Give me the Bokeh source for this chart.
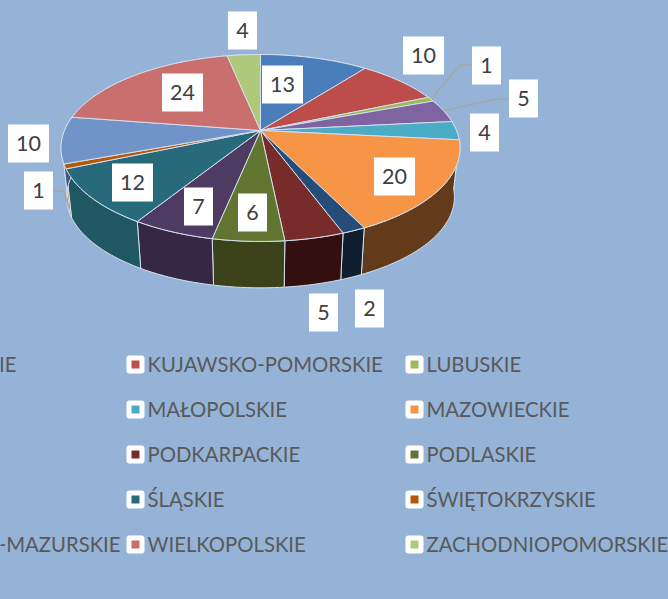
import math
from bokeh.plotting import figure
from bokeh.embed import file_html
from bokeh.resources import INLINE
from bokeh.core.properties import value

regions = ["DOLNOŚLĄSKIE", "KUJAWSKO-POMORSKIE", "LUBUSKIE", "ŁÓDZKIE", "MAŁOPOLSKIE",
           "MAZOWIECKIE", "OPOLSKIE", "PODKARPACKIE", "PODLASKIE", "POMORSKIE", "ŚLĄSKIE",
           "ŚWIĘTOKRZYSKIE", "WARMIŃSKO-MAZURSKIE", "WIELKOPOLSKIE", "ZACHODNIOPOMORSKIE"]
counts = [13, 10, 1, 5, 4, 20, 2, 5, 6, 7, 12, 1, 10, 24, 4]
top_colors = ["#4a7ebb", "#bc4d4b", "#9bbb59", "#8064a2", "#4bacc6", "#f59545", "#264d7a",
              "#772c2a", "#5f7530", "#4d3b62", "#276a7c", "#b65708", "#7093c8", "#c9706e", "#afc97a"]
side_colors = ["#2c4a70", "#70302e", "#5c7035", "#4c3c61", "#2d6676", "#633a1a", "#0e1e2e",
               "#33100f", "#3b4219", "#362845", "#1f5763", "#b8834f", "#43587a", "#784341", "#687849"]

BG = "#95b3d7"
W, H = 668, 599
CX, CY, RX, RY, K = 260.0, 130.0, 196.0, 90.2, 0.187
SIDE_SCALE, SIDE_DROP = 0.972, 49.5
EDGE = "#d5e0ee"
FONT = value("Lato")


def project(theta, lower=False):
    s = -math.cos(theta)
    d = 1 - K * s
    x, y = RX * math.sin(theta) / d, RY * s / d
    if lower:
        x, y = x * SIDE_SCALE, y * SIDE_SCALE + SIDE_DROP
    return CX + x, CY + y


def arc(a, b, lower=False):
    n = max(2, int(abs(b - a) / 0.02))
    return [project(a + (b - a) * i / n, lower) for i in range(n + 1)]


p = figure(width=W, height=H, x_range=(0, W), y_range=(H, 0), output_backend="svg",
           toolbar_location=None, background_fill_color=BG, border_fill_color=BG,
           min_border=0, outline_line_color=None)
p.axis.visible = False
p.grid.visible = False

total = sum(counts)
angles = [0.0]
for c in counts:
    angles.append(angles[-1] + 2 * math.pi * c / total)

side_xs, side_ys, top_xs, top_ys = [], [], [], []
for a, b in zip(angles[:-1], angles[1:]):
    upper, lower = arc(a, b), arc(a, b, True)
    ring = upper + lower[::-1]
    side_xs.append([q[0] for q in ring])
    side_ys.append([q[1] for q in ring])
    face = [(CX, CY)] + upper
    top_xs.append([q[0] for q in face])
    top_ys.append([q[1] for q in face])

p.patches(side_xs, side_ys, fill_color=side_colors, line_color=EDGE, line_width=1)
p.patches(top_xs, top_ys, fill_color=top_colors, line_color=EDGE, line_width=1)

# leader lines
leaders = [([472, 460, 431], [64, 64, 98]),
           ([510, 497, 443], [98.5, 98.5, 110]),
           ([52, 63, 69], [190.5, 190.5, 208])]
for lx, ly in leaders:
    p.line(lx, ly, line_color="#a6a6a6", line_width=1.5)

# data labels (order follows counts)
label_x = [282, 423, 486, 523, 484, 394, 369, 323, 252, 198, 132, 38, 28, 182, 242]
label_y = [84, 55, 65, 98, 132, 176, 308, 312, 212, 206, 182, 190, 143, 92, 30]
label_w = [41 if c >= 10 else 29 for c in counts]
p.rect(label_x, label_y, width=label_w, height=38, fill_color="white", line_color=None)
p.text(label_x, label_y, text=[str(c) for c in counts], text_align="center",
       text_baseline="middle", text_font=FONT, text_font_size="21.5px", text_color="#404040")

# legend: three columns, five rows, filled down then across; the first column runs
# off the left edge of the picture, as in the reference
col_swatch = [-153, 126, 405]
row_y = [364, 409, 454, 499, 544]
SW, INNER = 18, 8
TXT = dict(text_baseline="middle", text_font=FONT, text_font_size="20.3px", text_color="#595959")
lx, ly, lt, lc = [], [], [], []
for i, name in enumerate(regions):
    col, row = i % 3, i // 3
    lx.append(col_swatch[col] + SW / 2)
    ly.append(row_y[row])
    lt.append(name)
    lc.append(top_colors[i])
p.quad(left=[x - SW / 2 for x in lx], right=[x + SW / 2 for x in lx],
       top=[y - SW / 2 for y in ly], bottom=[y + SW / 2 for y in ly],
       fill_color="white", line_color=None, border_radius=3)
p.quad(left=[x - INNER / 2 for x in lx], right=[x + INNER / 2 for x in lx],
       top=[y - INNER / 2 for y in ly], bottom=[y + INNER / 2 for y in ly],
       fill_color=lc, line_color=None)
for c in (1, 2):
    p.text([x + SW / 2 + 3 for x in lx[c::3]], [y - 0.5 for y in ly[c::3]], text=lt[c::3], **TXT)
p.text([16, 120], [ly[0] - 0.5, ly[12] - 0.5], text=[lt[0], lt[12]], text_align="right", **TXT)

html = file_html(p, INLINE)
html = html.replace("<head>", f"<head><style>html,body{{margin:0 !important;padding:0;background:{BG};overflow:hidden}}</style>", 1)
open("out.html", "w").write(html)
